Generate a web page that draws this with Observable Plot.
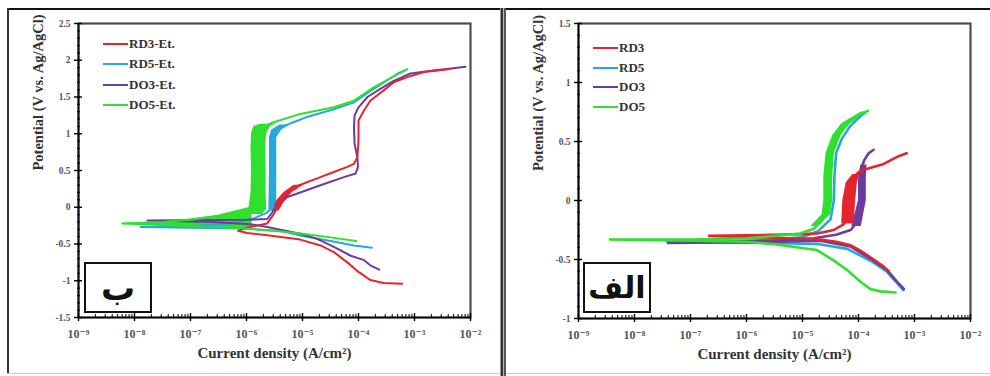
<!DOCTYPE html>
<html><head><meta charset="utf-8">
<script src="https://cdn.jsdelivr.net/npm/d3@7"></script>
<script src="https://cdn.jsdelivr.net/npm/@observablehq/plot@0.6"></script>
<style>
html,body{margin:0;padding:0;background:#fff;}
#page{position:relative;width:990px;height:376px;overflow:hidden;background:#fff;font-family:'Liberation Serif','DejaVu Serif',serif;}
.abs{position:absolute;}
.line{position:absolute;height:2px;}
.lbl{position:absolute;font-family:'Liberation Serif','DejaVu Serif',serif;font-weight:bold;font-size:13px;color:#333;line-height:14px;white-space:nowrap;}
.inset{position:absolute;border:2px solid #111;background:#fff;box-sizing:border-box;display:flex;align-items:center;justify-content:center;font-family:'DejaVu Sans',sans-serif;font-weight:bold;color:#111;z-index:5;}
.bd{position:absolute;z-index:10;}
svg text{font-family:'Liberation Serif','DejaVu Serif',serif;}
</style></head>
<body><div id="page"></div>
<script>
// ---------------- DATA (log10 of current density A/cm², potential V) ----------------
const xDecades = [-9, -8, -7, -6, -5, -4, -3, -2];
const yTicksEt = [-1.5, -1, -0.5, 0, 0.5, 1, 1.5, 2, 2.5];
const yTicksAs = [-1, -0.5, 0, 0.5, 1, 1.5];
const labelsEt = ["RD3-Et.", "RD5-Et.", "DO3-Et.", "DO5-Et."];
const labelsAs = ["RD3", "RD5", "DO3", "DO5"];
const seriesColors = ["#e5242b", "#23a9dd", "#6a3d9e", "#2fe02f"];
const insetLabels = ["ب", "الف"];
const xTitle = "Current density (A/cm²)";
const yTitle = "Potential (V vs. Ag/AgCl)";

// Panel ب (etched)  [logI, E]
const rd3Et = [[-3.22,-1.04],[-3.55,-1.03],[-3.79,-0.99],[-4.00,-0.88],[-4.20,-0.75],[-4.44,-0.61],[-4.68,-0.52],[-5.04,-0.44],[-5.63,-0.38],[-5.99,-0.35],[-6.15,-0.32],[-6.0,-0.28],[-5.63,-0.22],[-5.51,-0.09],[-5.39,0.07],[-5.27,0.20],[-5.16,0.27],[-4.92,0.34],[-4.68,0.41],[-4.44,0.48],[-4.20,0.55],[-4.08,0.59],[-4.02,0.68],[-4.00,0.91],[-4.00,1.18],[-3.90,1.32],[-3.79,1.45],[-3.67,1.52],[-3.55,1.59],[-3.37,1.70],[-3.13,1.77],[-2.83,1.84],[-2.36,1.88]];
const rd5Et = [[-3.76,-0.55],[-4.08,-0.52],[-4.5,-0.46],[-5.0,-0.39],[-5.33,-0.33],[-6.0,-0.29],[-7.0,-0.28],[-7.89,-0.27],[-7.0,-0.26],[-6.3,-0.22],[-5.9,-0.16],[-5.65,-0.08],[-5.52,0.0],[-5.5,0.3],[-5.5,0.6],[-5.5,0.9],[-5.48,1.02],[-5.35,1.1],[-5.15,1.16],[-4.95,1.22],[-4.5,1.32],[-4.1,1.42],[-3.75,1.6],[-3.3,1.82],[-3.15,1.87]];
const do3Et = [[-3.63,-0.85],[-3.79,-0.79],[-3.90,-0.72],[-4.14,-0.66],[-4.44,-0.54],[-4.74,-0.43],[-5.04,-0.36],[-5.63,-0.27],[-5.93,-0.23],[-6.6,-0.20],[-7.77,-0.18],[-6.6,-0.175],[-6.0,-0.17],[-5.63,-0.16],[-5.45,0.02],[-5.27,0.14],[-5.04,0.20],[-4.68,0.30],[-4.26,0.41],[-4.05,0.46],[-4.01,0.55],[-4.02,0.68],[-4.07,0.86],[-4.08,1.09],[-4.07,1.25],[-4.00,1.36],[-3.84,1.50],[-3.61,1.61],[-3.37,1.72],[-3.07,1.82],[-2.66,1.86],[-2.42,1.88],[-2.09,1.91]];
const do5Et = [[-4.04,-0.46],[-4.5,-0.41],[-5.0,-0.36],[-5.5,-0.32],[-6.0,-0.29],[-6.5,-0.27],[-7.0,-0.26],[-7.5,-0.24],[-8.22,-0.22],[-7.5,-0.2],[-7.0,-0.17],[-6.5,-0.12],[-6.2,-0.06],[-5.9,0.0],[-5.8,0.5],[-5.78,1.0],[-5.7,1.1],[-5.5,1.16],[-5.04,1.27],[-4.44,1.36],[-4.08,1.45],[-3.73,1.63],[-3.13,1.88]];
// noisy bands [E, logI low, logI high]
const rd3EtBand = [[-0.05,-5.55,-5.42],[0.1,-5.45,-5.3],[0.2,-5.33,-5.18],[0.3,-5.15,-4.98]];
const rd5EtBand = [[-0.05,-5.6,-5.46],[0.5,-5.59,-5.46],[0.95,-5.59,-5.46],[1.05,-5.55,-5.37],[1.12,-5.4,-5.22]];
const do5EtBand = [[-0.1,-6.1,-5.72],[-0.03,-5.96,-5.64],[0.2,-5.92,-5.65],[0.5,-5.91,-5.65],[0.8,-5.92,-5.66],[1.0,-5.91,-5.64],[1.1,-5.87,-5.57],[1.13,-5.75,-5.47]];
// Ecorr wedge [logI, E low, E high]
const do5EtWedge = [[-8.22,-0.22,-0.22],[-7.5,-0.245,-0.195],[-7.0,-0.27,-0.16],[-6.5,-0.28,-0.11],[-6.2,-0.29,-0.05],[-5.9,-0.3,0.0]];

// Panel الف (as-received)
const rd3As = [[-3.46,-0.60],[-3.55,-0.56],[-3.73,-0.50],[-3.95,-0.43],[-4.14,-0.38],[-4.4,-0.35],[-4.68,-0.33],[-5.2,-0.32],[-6.0,-0.31],[-6.67,-0.30],[-6.0,-0.295],[-5.5,-0.29],[-5.0,-0.285],[-4.74,-0.28],[-4.44,-0.25],[-4.26,-0.20],[-4.17,-0.11],[-4.17,0.11],[-4.11,0.18],[-4.00,0.24],[-3.84,0.27],[-3.55,0.31],[-3.31,0.37],[-3.14,0.40]];
const rd5As = [[-3.2,-0.76],[-3.33,-0.69],[-3.5,-0.6],[-3.75,-0.52],[-4.2,-0.41],[-4.7,-0.37],[-5.5,-0.36],[-6.5,-0.355],[-7.42,-0.35],[-6.5,-0.345],[-5.5,-0.335],[-5.0,-0.31],[-4.72,-0.26],[-4.5,-0.16],[-4.44,0.0],[-4.43,0.2],[-4.4,0.4],[-4.3,0.52],[-4.15,0.63],[-3.95,0.72],[-3.88,0.745]];
const do3As = [[-3.19,-0.75],[-3.31,-0.69],[-3.49,-0.59],[-3.73,-0.51],[-4.14,-0.39],[-4.68,-0.34],[-5.5,-0.35],[-6.5,-0.355],[-7.4,-0.36],[-6.5,-0.35],[-5.5,-0.34],[-4.8,-0.32],[-4.4,-0.29],[-4.14,-0.25],[-4.00,-0.17],[-3.93,0.0],[-3.93,0.17],[-3.96,0.25],[-3.90,0.34],[-3.82,0.40],[-3.73,0.43]];
const do5As = [[-3.34,-0.78],[-3.61,-0.77],[-3.79,-0.75],[-3.96,-0.69],[-4.20,-0.59],[-4.44,-0.51],[-4.74,-0.42],[-5.04,-0.40],[-5.5,-0.37],[-6.0,-0.35],[-7.0,-0.34],[-8.44,-0.33],[-7.0,-0.33],[-6.0,-0.32],[-5.5,-0.30],[-5.04,-0.28],[-4.80,-0.24],[-4.65,-0.17],[-4.56,-0.08],[-4.53,0.06],[-4.53,0.23],[-4.51,0.37],[-4.44,0.51],[-4.32,0.59],[-4.20,0.65],[-4.02,0.72],[-3.83,0.76]];
const rd3AsBand = [[-0.2,-4.3,-4.08],[0.0,-4.28,-4.05],[0.15,-4.22,-4.02],[0.22,-4.1,-3.98]];
const do3AsBand = [[-0.22,-4.12,-3.95],[0.0,-4.0,-3.86],[0.18,-4.0,-3.86],[0.3,-3.96,-3.85]];
const do5AsBand = [[-0.22,-4.85,-4.72],[-0.12,-4.65,-4.5],[0.0,-4.62,-4.46],[0.2,-4.62,-4.46],[0.4,-4.58,-4.43],[0.55,-4.46,-4.31],[0.65,-4.3,-4.15],[0.75,-3.95,-3.83]];

// ---------------- helpers ----------------
const SUP = {"-":"⁻","0":"⁰","1":"¹","2":"²","3":"³","4":"⁴","5":"⁵","6":"⁶","7":"⁷","8":"⁸","9":"⁹"};
const powFmt = d => "10" + String(Math.round(Math.log10(d))).split("").map(c => SUP[c]).join("");
const X = p => 10 ** p[0];
const SERIF = "'Liberation Serif', 'DejaVu Serif', serif";

function panel({lines, bands, wedges, yTicks, width, marginRight, marginBottom, sw}) {
  const y0 = yTicks[0], y1 = yTicks[yTicks.length - 1];
  const xMajor = xDecades.map(e => 10 ** e);
  const xMinor = [];
  for (const e of xDecades.slice(0, -1)) for (let k = 2; k <= 9; k++) xMinor.push(k * 10 ** e);
  const yMinor = d3.range(Math.round(y0 * 10), Math.round(y1 * 10) + 1).map(v => v / 10);
  const marks = [];
  for (const w of wedges) marks.push(Plot.areaY(w.data, {x: d => 10 ** d[0], y1: d => d[1], y2: d => d[2], fill: w.color}));
  for (const b of bands) marks.push(Plot.areaX(b.data, {y: d => d[0], x1: d => 10 ** d[1], x2: d => 10 ** d[2], fill: b.color}));
  for (const l of lines) marks.push(Plot.line(l.data, {x: X, y: p => p[1], stroke: l.color, strokeWidth: sw, strokeLinejoin: "round"}));
  marks.push(
    Plot.frame({stroke: "#4d4d4d", strokeWidth: 2.2}),
    Plot.ruleX([1e-9], {stroke: "#000", strokeWidth: 1.6}),
    Plot.ruleY([y0], {stroke: "#000", strokeWidth: 1.6}),
    Plot.axisX({ticks: xMinor, tickSize: 3, dy: -3, tickFormat: () => "", stroke: "#000", label: null}),
    Plot.axisX({ticks: xMajor, tickSize: 8, dy: -4, tickFormat: () => "", stroke: "#000", strokeWidth: 1.4, label: null}),
    Plot.axisX({ticks: xMajor, tickSize: 0, tickPadding: 12, tickFormat: powFmt, fill: "#555", fontSize: 12, fontWeight: "bold", fontFamily: SERIF, label: null}),
    Plot.axisY({ticks: yMinor, tickSize: 3, dx: 2, tickFormat: () => "", stroke: "#000", label: null}),
    Plot.axisY({ticks: yTicks, tickSize: 8, dx: 4, tickFormat: () => "", stroke: "#000", strokeWidth: 1.4, label: null}),
    Plot.axisY({ticks: yTicks, tickSize: 0, tickPadding: 8, tickFormat: d => String(d), fill: "#555", fontSize: 9.5, fontWeight: "bold", fontFamily: SERIF, label: null}),
    Plot.text([xTitle], {frameAnchor: "bottom", dy: 40, fontSize: 15, fontWeight: "bold", fill: "#333", fontFamily: SERIF}),
    Plot.text([yTitle], {frameAnchor: "left", dx: -40, rotate: -90, fontSize: 14.5, fontWeight: "bold", fill: "#333", fontFamily: SERIF})
  );
  return Plot.plot({
    width, height: 376, marginLeft: 78, marginRight, marginTop: 23, marginBottom,
    style: {fontFamily: SERIF, background: "transparent", overflow: "visible"},
    x: {type: "log", domain: [1e-9, 1e-2]},
    y: {domain: [y0, y1]},
    marks
  });
}

const C = seriesColors;
const left = panel({
  lines: [{data: rd5Et, color: C[1]}, {data: do3Et, color: C[2]}, {data: rd3Et, color: C[0]}, {data: do5Et, color: C[3]}],
  bands: [{data: rd5EtBand, color: C[1]}, {data: rd3EtBand, color: C[0]}, {data: do5EtBand, color: C[3]}],
  wedges: [{data: do5EtWedge, color: C[3]}],
  yTicks: yTicksEt, width: 500, marginRight: 30, marginBottom: 59, sw: 2
});
const right = panel({
  lines: [{data: rd5As, color: C[1]}, {data: do3As, color: C[2]}, {data: rd3As, color: C[0]}, {data: do5As, color: C[3]}],
  bands: [{data: do3AsBand, color: C[2]}, {data: rd3AsBand, color: C[0]}, {data: do5AsBand, color: C[3]}],
  wedges: [],
  yTicks: yTicksAs, width: 490, marginRight: 20, marginBottom: 58, sw: 2.6
});

const page = document.getElementById("page");
function place(node, x, y) {
  const d = document.createElement("div");
  d.className = "abs"; d.style.left = x + "px"; d.style.top = y + "px";
  d.appendChild(node); page.appendChild(d);
}
place(left, 0, 0);
place(right, 500, 0);

function legend(labels, x1, x2, ys) {
  labels.forEach((t, i) => {
    const ln = document.createElement("div");
    ln.className = "line"; ln.style.left = x1 + "px"; ln.style.width = (x2 - x1) + "px";
    ln.style.top = (ys[i] - 1) + "px"; ln.style.background = C[i];
    page.appendChild(ln);
    const tx = document.createElement("div");
    tx.className = "lbl"; tx.textContent = t; tx.style.left = (x2 + 1) + "px"; tx.style.top = (ys[i] - 7) + "px";
    page.appendChild(tx);
  });
}
legend(labelsEt, 103, 128, [44, 64, 85, 105]);
legend(labelsAs, 593, 618, [48, 68, 87, 107]);

function inset(t, x, y, w, h, fs) {
  const d = document.createElement("div");
  d.className = "inset"; d.textContent = t; d.dir = "rtl";
  Object.assign(d.style, {left: x + "px", top: y + "px", width: w + "px", height: h + "px", fontSize: fs + "px"});
  page.appendChild(d);
}
inset(insetLabels[0], 84, 262, 68, 51, 34);
inset(insetLabels[1], 583, 262, 68, 51, 30);

function bd(x, y, w, h, c) {
  const d = document.createElement("div");
  d.className = "bd"; Object.assign(d.style, {left: x + "px", top: y + "px", width: w + "px", height: h + "px", background: c});
  page.appendChild(d);
}
bd(7, 8, 983, 2, "#111");
bd(7, 8, 2, 366, "#333");
bd(7, 373, 983, 1, "#ccc");
bd(500, 8, 1, 368, "#999");
bd(501, 8, 2, 368, "#333");
bd(503, 8, 1, 368, "#bbb");
bd(504, 8, 2, 368, "#555");
</script>
</body></html>
